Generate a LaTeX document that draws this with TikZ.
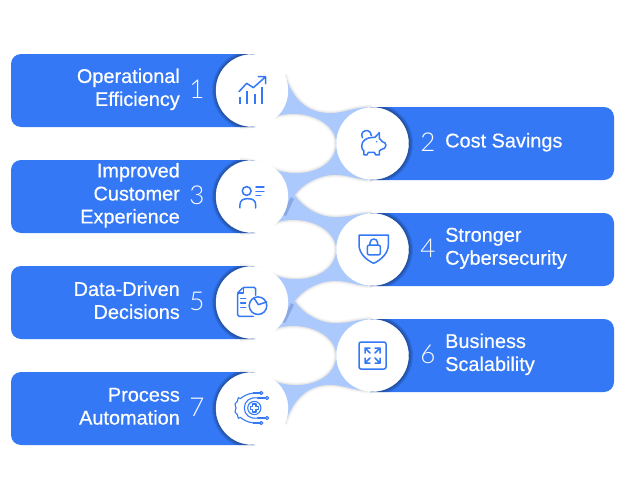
\documentclass[tikz,border=0pt]{standalone}
\usepackage{fontspec}
\setmainfont{Liberation Sans}
\newfontfamily\thinfont{Lato Light}
\definecolor{barblue}{HTML}{3478F6}
\definecolor{lightblue}{HTML}{ABC9FC}
\definecolor{streak}{HTML}{7F9FDC}
\definecolor{edgegrey}{HTML}{888888}
\newcommand{\barL}[1]{(21,#1) -- (255,#1) -- (255,#1+73) -- (21,#1+73) arc[start angle=270,end angle=180,radius=10pt] -- (11,#1+10) arc[start angle=180,end angle=90,radius=10pt] -- cycle}
\newcommand{\barR}[1]{(370,#1) -- (604,#1) arc[start angle=90,end angle=0,radius=10pt] -- (614,#1+63) arc[start angle=0,end angle=-90,radius=10pt] -- (370,#1+73) -- cycle}
% #1 region to clip to, #2 open curve that carries the soft edge
\newcommand{\softedge}[2]{%
  \begin{scope}\clip #1;
    \draw[edgegrey,opacity=.05,line width=5pt] #2;
    \draw[edgegrey,opacity=.08,line width=3pt] #2;
    \draw[edgegrey,opacity=.10,line width=1.4pt] #2;
  \end{scope}}
\newcommand{\curveLtop}[1]{(240,#1) .. controls (262,#1) and (270,#1-13) .. (293,#1-13) .. controls (318,#1-13) and (336,#1+1) .. (336,#1+16.5)}
\newcommand{\curveLbot}[1]{(336,#1+16.5) .. controls (336,#1+33) and (320,#1+46) .. (296,#1+46) .. controls (272,#1+46) and (262,#1+33) .. (240,#1+33)}
\newcommand{\blobL}[1]{(240,#1) .. controls (262,#1) and (270,#1-13) .. (293,#1-13) .. controls (318,#1-13) and (336,#1+1) .. (336,#1+16.5) .. controls (336,#1+33) and (320,#1+46) .. (296,#1+46) .. controls (272,#1+46) and (262,#1+33) .. (240,#1+33) -- cycle}
\newcommand{\curveR}[1]{(372,#1) .. controls (355,#1) and (350,#1-5) .. (335,#1-5) .. controls (318,#1-5) and (302,#1+5) .. (295,#1+15) .. controls (302,#1+26) and (318,#1+37) .. (335,#1+37) .. controls (352,#1+37) and (355,#1+33) .. (372,#1+33)}
\newcommand{\blobR}[1]{(372,#1) .. controls (355,#1) and (350,#1-5) .. (335,#1-5) .. controls (318,#1-5) and (302,#1+5) .. (295,#1+15) .. controls (302,#1+26) and (318,#1+37) .. (335,#1+37) .. controls (352,#1+37) and (355,#1+33) .. (372,#1+33) -- cycle}
\newcommand{\shadowC}[3]{%
  \begin{scope}\clip #3;
    \foreach \rr in {40.5,39.5,38.5,37.5}{\fill[black,opacity=.09] (#1,#2) circle[radius=\rr pt];}
  \end{scope}}
\tikzset{
  x=1pt,y=-1pt,
  circ/.style={circle,fill=white,draw=white,minimum size=72pt,inner sep=0pt},
  lab/.style={text=white,inner sep=0pt,font=\fontsize{19.9}{23}\selectfont\addfontfeature{FakeBold=0.5}},
  labL/.style={lab,anchor=east,align=right},
  labR/.style={lab,anchor=west,align=left},
  num/.style={text=white,inner sep=0pt,font=\fontsize{26}{26}\selectfont\thinfont},
  icon/.style={draw=barblue,line width=1.5pt,line cap=round,line join=round},
  iconbox/.style={x=.3333pt,y=-.3333pt},
}
\begin{document}
\begin{tikzpicture}
\useasboundingbox (0,0) rectangle (625,498);
\fill[white] (0,0) rectangle (625,498);
% light connecting region
\fill[lightblue] (252,80) rectangle (372,418);
\fill[streak,opacity=.75] (291,197) -- (294,199) -- (286,216) -- (282,214) -- cycle;
\fill[streak,opacity=.75] (291,303) -- (294,305) -- (285,323) -- (281,321) -- cycle;
% white regions
\def\topcurve{(285,75) .. controls (292,96) and (305,113) .. (330,113) .. controls (345,113) and (352,107) .. (372,107)}
\def\topregion{(285,75) .. controls (292,96) and (305,113) .. (330,113) .. controls (345,113) and (352,107) .. (372,107) -- (372,70) -- (285,70) -- cycle}
\def\botcurve{(285,424) .. controls (292,403) and (305,385) .. (330,385) .. controls (345,385) and (352,391) .. (372,391)}
\def\botregion{(285,424) .. controls (292,403) and (305,385) .. (330,385) .. controls (345,385) and (352,391) .. (372,391) -- (372,428) -- (285,428) -- cycle}
\fill[white] \topregion; \softedge{\topregion}{\topcurve}
\fill[white] \botregion; \softedge{\botregion}{\botcurve}
\foreach \yy in {127,233,339}{\fill[white] \blobL{\yy}; \softedge{\blobL{\yy}}{\curveLtop{\yy}} \softedge{\blobL{\yy}}{\curveLbot{\yy}}}
\foreach \yy in {180,286}{\fill[white] \blobR{\yy}; \softedge{\blobR{\yy}}{\curveR{\yy}}}
% bars
\foreach \yy in {54,160,266,372}{\fill[barblue] \barL{\yy};}
\foreach \yy in {107,213,319}{\fill[barblue] \barR{\yy};}
\shadowC{252.5}{90.5}{\barL{54}}
\shadowC{252.5}{196.5}{\barL{160}}
\shadowC{252.5}{302.5}{\barL{266}}
\shadowC{252.5}{408.5}{\barL{372}}
\shadowC{372.5}{143.5}{\barR{107}}
\shadowC{372.5}{249.5}{\barR{213}}
\shadowC{372.5}{355.5}{\barR{319}}
% circles
\node[circ] (c1) at (252,90.5) {};
\node[circ] (c2) at (372.5,143.5) {};
\node[circ] (c3) at (252,196.5) {};
\node[circ] (c4) at (372.5,249.5) {};
\node[circ] (c5) at (252,302.5) {};
\node[circ] (c6) at (372.5,355.5) {};
\node[circ] (c7) at (252,408.5) {};
% labels
\node[labL] (t1) at (180,89.3) {Operational\\Efficiency};
\node[labL] (t3) at (180,195.3) {Improved\\Customer\\Experience};
\node[labL] (t5) at (180,300.3) {Data-Driven\\Decisions};
\node[labL] (t7) at (180,406.3) {Process\\Automation};
\node[labR] (t2) at (445,142.3) {Cost Savings};
\node[labR] (t4) at (445,248.3) {Stronger\\Cybersecurity};
\node[labR] (t6) at (445,354.3) {Business\\Scalability};
\node[num] (n1) at (197,89) {1};
\node[num] (n3) at (197,195) {3};
\node[num] (n5) at (197,301) {5};
\node[num] (n7) at (197,407) {7};
\node[num] (n2) at (428,142) {2};
\node[num] (n4) at (428,248) {4};
\node[num] (n6) at (428,354) {6};
% icon 1: chart
\begin{scope}[shift={(225,65)},iconbox]
  \draw[icon,line width=2pt,line cap=butt] (45,117) -- (45,97) (67,117) -- (67,78) (89,117) -- (89,88) (110,117) -- (110,65);
  \draw[icon] (42,80) -- (65,55) -- (85,68) -- (120,37) (100,35) -- (122,35) -- (122,56);
\end{scope}
% icon 2: piggy bank
\begin{scope}[shift={(345,120)},iconbox]
  \draw[icon] (50,78) .. controls (50,62) and (65,52) .. (85,52) -- (90,52) -- (103,38) -- (103,55) -- (112,65) .. controls (118,66) and (123,70) .. (123,76) .. controls (123,84) and (115,88) .. (110,88) -- (103,93) -- (103,105) -- (92,105) -- (88,97) -- (70,97) -- (66,105) -- (57,105) -- (57,93) .. controls (52,90) and (50,85) .. (50,78) -- cycle;
  \draw[icon] (52,53) .. controls (45,38) and (58,30) .. (68,32) .. controls (74,33) and (78,38) .. (79,47);
  \fill[barblue] (95,65) circle[radius=.8pt];
\end{scope}
% icon 3: person
\begin{scope}[shift={(225,172)},iconbox]
  \draw[icon] (65,57) circle[radius=4.4pt];
  \draw[icon] (45,108) -- (45,98) .. controls (45,85) and (55,80) .. (68,80) .. controls (82,80) and (92,85) .. (92,98) -- (92,108);
  \draw[icon] (93,45) -- (117,45) (93,58) -- (117,58) (93,70) -- (107,70);
\end{scope}
% icon 4: shield
\begin{scope}[shift={(345,225)},iconbox]
  \draw[icon] (42,30) -- (130,30) -- (130,60) .. controls (130,85) and (108,105) .. (86,115) .. controls (64,105) and (42,85) .. (42,60) -- cycle;
  \draw[icon,rounded corners=2pt] (67,60) rectangle (106,90);
  \draw[icon] (75,60) -- (75,54) .. controls (75,38) and (98,38) .. (98,54) -- (98,60);
\end{scope}
% icon 5: document and pie
\begin{scope}[shift={(225,278)},iconbox]
  \draw[icon,rounded corners=1.5pt] (85,115) -- (38,115) -- (38,45) -- (55,28) -- (92,28) -- (92,52);
  \draw[icon] (55,28) -- (55,45) -- (38,45);
  \draw[icon] (47,62) -- (62,62) (47,75) -- (62,75) (47,88) -- (62,88);
  \fill[white] (99,83) circle[radius=9pt];
  \draw[icon] (99,83) circle[radius=8.8pt];
  \draw[icon] (87,60) -- (100,80) -- (125,72);
\end{scope}
% icon 6: expand
\begin{scope}[shift={(359,342)}]
  \draw[icon,rounded corners=2pt] (0,0) rectangle (27,27);
  \draw[icon] (6,11) -- (6,6) -- (11,6) (6,6) -- (11,11);
  \draw[icon] (21,11) -- (21,6) -- (16,6) (21,6) -- (16,11);
  \draw[icon] (6,16) -- (6,21) -- (11,21) (6,21) -- (11,16);
  \draw[icon] (21,16) -- (21,21) -- (16,21) (21,21) -- (16,16);
\end{scope}
% icon 7: gear circuit
\begin{scope}[shift={(225,384)},iconbox]
  \begin{scope}[icon/.append style={line width=1.1pt}]
  \draw[icon] (88,72) circle[radius=6.6pt];
  \draw[icon] (83,60) -- (93,60) -- (93,67) -- (100,67) -- (100,77) -- (93,77) -- (93,84) -- (83,84) -- (83,77) -- (76,77) -- (76,67) -- (83,67) -- cycle;
  \draw[icon] (98,42) .. controls (74,38) and (58,52) .. (58,72) .. controls (58,92) and (74,106) .. (98,102);
  \draw[icon] (85,27) .. controls (68,29) and (54,37) .. (46,44) -- (40,41) -- (37,52) -- (30,60) -- (33,72) -- (30,84) -- (37,92) -- (40,103) -- (46,100) .. controls (54,107) and (68,115) .. (85,117);
  \draw[icon] (85,27) -- (104,27) (98,42) -- (121,42) (98,102) -- (121,102) (85,117) -- (104,117);
  \draw[icon] (109,27) circle[radius=1.6pt] (126,42) circle[radius=1.6pt] (126,102) circle[radius=1.6pt] (109,117) circle[radius=1.6pt];
  \end{scope}
\end{scope}
\end{tikzpicture}
\end{document}
